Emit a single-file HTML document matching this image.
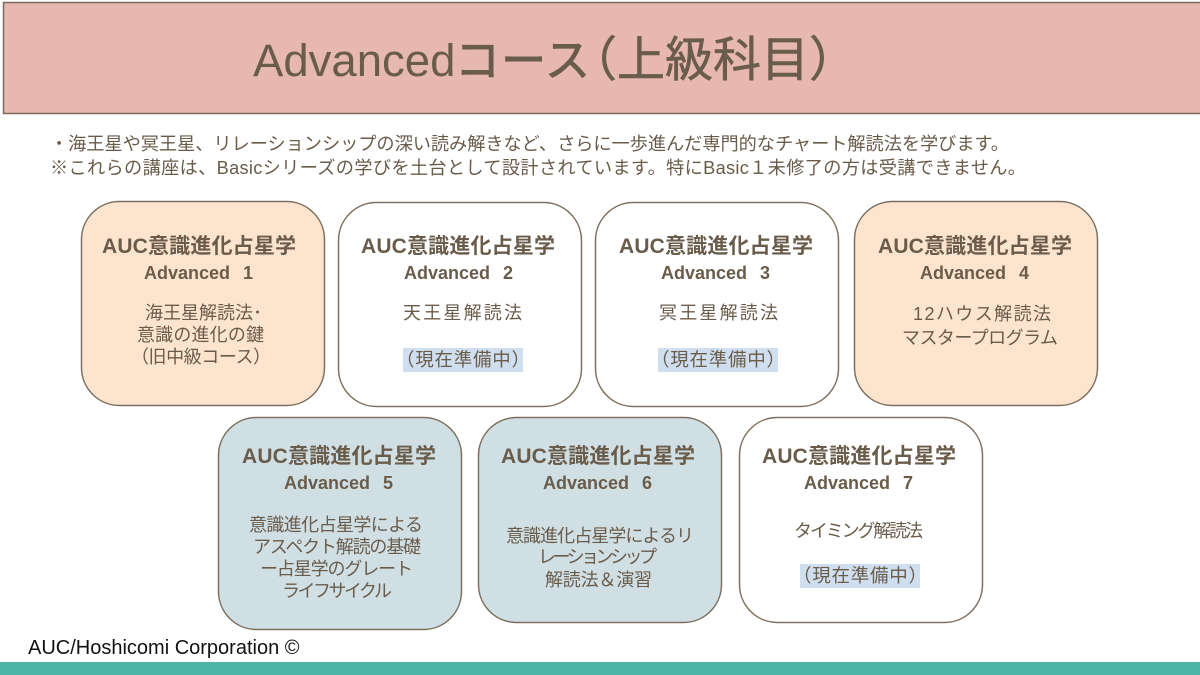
<!DOCTYPE html>
<html lang="ja"><head><meta charset="utf-8"><title>Advancedコース</title>
<style>
html,body{margin:0;padding:0;background:#fff;width:1200px;height:675px;overflow:hidden}
svg{display:block}
text{font-family:"Liberation Sans","WenQuanYi Zen Hei","Noto Sans CJK JP",sans-serif;fill:#6a5c4b}
.h{font-size:21px;font-weight:bold;font-family:"Liberation Sans","Noto Sans CJK JP",sans-serif}
.a{font-size:18px;font-weight:bold;font-family:"Liberation Sans",sans-serif;word-spacing:8px}
.b{font-size:18px}
.n{font-size:18.5px}
.p{font-size:18.2px}
</style></head><body>
<svg width="1200" height="675" viewBox="0 0 1200 675" xmlns="http://www.w3.org/2000/svg">
<rect width="1200" height="675" fill="#fff"/>
<rect x="3.5" y="2.5" width="1200" height="111" fill="#e6b8b0" stroke="#7b6b5a" stroke-width="1.5"/>
<text x="253" y="76" font-size="45.5">Advanced</text>
<text x="455" y="76" font-size="45" textLength="135" stroke="#6a5c4b" stroke-width="1">コース</text>
<text x="569" y="76" font-size="48" stroke="#6a5c4b" stroke-width="0.6">（上級科目）</text>
<text class="p" x="50" y="150" textLength="959">・海王星や冥王星、リレーションシップの深い読み解きなど、さらに一歩進んだ専門的なチャート解読法を学びます。</text>
<text class="p" x="50" y="174" textLength="976">※これらの講座は、Basicシリーズの学びを土台として設計されています。特にBasic１未修了の方は受講できません。</text>

<g stroke="#7d705e" stroke-width="1.5">
<rect x="81.5" y="201.5" width="243" height="204" rx="38" fill="#fde4cf"/>
<rect x="338.5" y="202.5" width="243" height="204" rx="38" fill="#fff"/>
<rect x="595.5" y="202.5" width="243" height="204" rx="38" fill="#fff"/>
<rect x="854.5" y="201.5" width="243" height="204" rx="38" fill="#fde4cf"/>
<rect x="218.5" y="417.5" width="243" height="212" rx="38" fill="#d0dfe4"/>
<rect x="478.5" y="417.5" width="243" height="205" rx="38" fill="#d0dfe4"/>
<rect x="739.5" y="417.5" width="243" height="205" rx="38" fill="#fff"/>
</g>

<rect x="403" y="348" width="120" height="24" fill="#cfdfef"/>
<rect x="658" y="348" width="120" height="24" fill="#cfdfef"/>
<rect x="800" y="564" width="120" height="24" fill="#cfdfef"/>

<text class="h" x="102" y="253" textLength="194">AUC意識進化占星学</text>
<text class="a" x="144" y="279">Advanced 1</text>
<text class="b" x="145" y="319" textLength="117">海王星解読法･</text>
<text class="b" x="137" y="341" textLength="127">意識の進化の鍵</text>
<text class="b" x="131" y="363" textLength="140">（旧中級コース）</text>

<text class="h" x="361" y="253" textLength="194">AUC意識進化占星学</text>
<text class="a" x="404" y="279">Advanced 2</text>
<text class="b" x="403" y="319" textLength="119">天王星解読法</text>
<text class="n" x="396" y="366" textLength="134">（現在準備中）</text>

<text class="h" x="619" y="253" textLength="194">AUC意識進化占星学</text>
<text class="a" x="661" y="279">Advanced 3</text>
<text class="b" x="659" y="319" textLength="119">冥王星解読法</text>
<text class="n" x="651" y="366" textLength="134">（現在準備中）</text>

<text class="h" x="878" y="253" textLength="194">AUC意識進化占星学</text>
<text class="a" x="920" y="279">Advanced 4</text>
<text class="b" x="913" y="320" textLength="138">12ハウス解読法</text>
<text class="b" x="902" y="344" textLength="156">マスタープログラム</text>

<text class="h" x="242" y="463" textLength="194">AUC意識進化占星学</text>
<text class="a" x="284" y="489">Advanced 5</text>
<text class="b" x="249" y="531" textLength="174">意識進化占星学による</text>
<text class="b" x="253" y="553" textLength="168">アスペクト解読の基礎</text>
<text class="b" x="260" y="575" textLength="153">ー占星学のグレート</text>
<text class="b" x="282" y="597" textLength="110">ライフサイクル</text>

<text class="h" x="501" y="463" textLength="194">AUC意識進化占星学</text>
<text class="a" x="543" y="489">Advanced 6</text>
<text class="b" x="506" y="542" textLength="188">意識進化占星学によるリ</text>
<text class="b" x="538" y="563" textLength="119">レーションシップ</text>
<text class="b" x="545" y="586" textLength="107">解読法＆演習</text>

<text class="h" x="762" y="463" textLength="194">AUC意識進化占星学</text>
<text class="a" x="804" y="489">Advanced 7</text>
<text class="b" x="794" y="537" textLength="129">タイミング解読法</text>
<text class="n" x="793" y="582" textLength="134">（現在準備中）</text>

<text x="28" y="654" font-size="20" style="fill:#111">AUC/Hoshicomi Corporation ©</text>
<rect x="0" y="662" width="1200" height="13" fill="#4db3a5"/>
</svg>
</body></html>
